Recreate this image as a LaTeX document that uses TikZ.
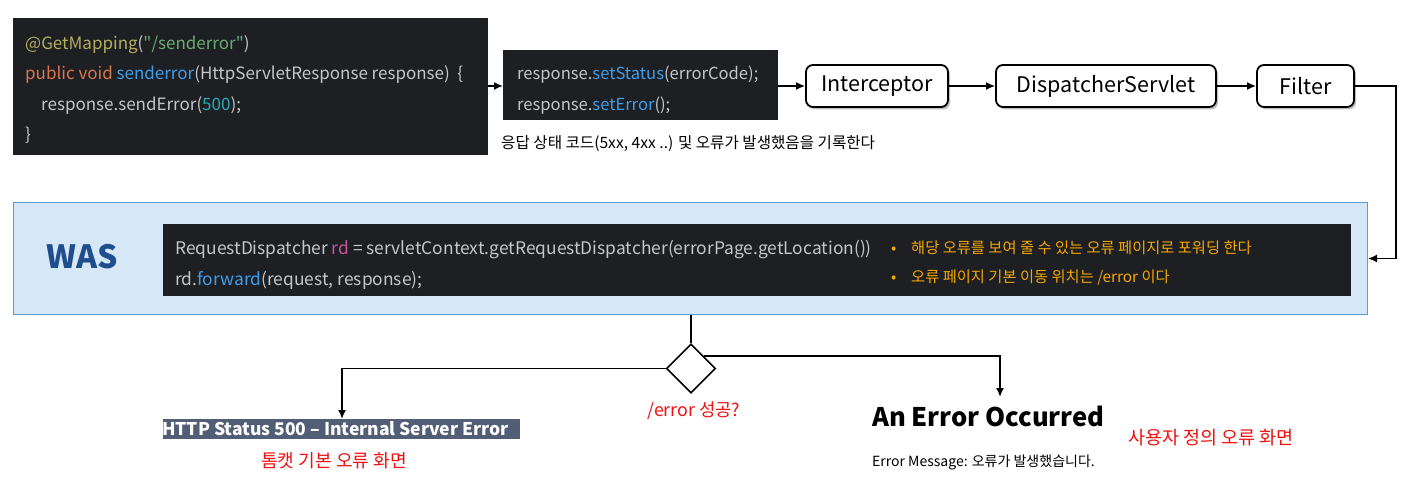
\documentclass[tikz,border=0pt]{standalone}
\usepackage{fontspec}
\setmainfont{Noto Sans CJK KR}
\newfontfamily\nolig{Noto Sans CJK KR}
\usetikzlibrary{arrows.meta,shapes.geometric,shadows,calc}
\definecolor{codebg}{HTML}{1E1F22}
\definecolor{codegray}{HTML}{C4C6CC}
\definecolor{annot}{HTML}{B3AE60}
\definecolor{strg}{HTML}{6AAB73}
\definecolor{kw}{HTML}{D9764F}
\definecolor{fn}{HTML}{3D9EEB}
\definecolor{num}{HTML}{2AACB8}
\definecolor{rdc}{HTML}{C7559C}
\definecolor{bul}{HTML}{F5A800}
\definecolor{wasfill}{HTML}{D6E8F7}
\definecolor{wasdraw}{HTML}{5B9BD5}
\definecolor{wastext}{HTML}{1F4E8F}
\definecolor{tomcat}{HTML}{525D76}
\definecolor{redtxt}{HTML}{F01010}
\newcommand{\fs}[1]{\fontsize{#1}{#1}\selectfont}
\newcommand{\dq}{{\nolig"}}
\begin{document}
\begin{tikzpicture}[x=1pt,y=-1pt,
  codebox/.style={fill=codebg, draw=none, inner sep=0, anchor=north west},
  ct/.style={anchor=base west, inner sep=0, text=codegray, font=\fs{17}},
  rbox/.style={draw, line width=1.8pt, rounded corners=7pt, minimum height=42pt, fill=white,
    drop shadow={shadow xshift=2pt, shadow yshift=-2.5pt, opacity=0.35, fill=black!70},
    font=\fs{21.5}, inner sep=0},
  arr/.style={line width=1.6pt, -{Latex[length=9pt,width=8pt]}},
  ln/.style={line width=1.6pt},
  plain/.style={inner sep=0},
  redlab/.style={inner sep=0, text=redtxt}
]
\useasboundingbox[fill=white] (0,0) rectangle (1427,494);

% top-left code box
\node[codebox, minimum width=475pt, minimum height=137pt] (c1) at (13,18) {};
\node[ct] (l1) at (25,50) {\textcolor{annot}{@GetMapping}(\textcolor{strg}{\dq/senderror\dq})};
\node[ct] (l2) at (25,80) {\textcolor{kw}{public void} \textcolor{fn}{senderror}(HttpServletResponse response)\ \ \{};
\node[ct] (l3) at (41,111) {response.sendError(\textcolor{num}{500});};
\node[ct] (l4) at (25,141) {\}};

% second code box
\node[codebox, minimum width=275pt, minimum height=70pt] (c2) at (503,50) {};
\node[ct, font=\fs{16.6}] (m1) at (517,80) {response.\textcolor{fn}{setStatus}(errorCode);};
\node[ct, font=\fs{16.6}] (m2) at (517,111) {response.\textcolor{fn}{setError}();};
\node[plain, anchor=base west, font=\fs{15.6}] (cap) at (501,149) {응답 상태 코드(5xx, 4xx ..) 및 오류가 발생했음을 기록한다};

% rounded boxes
\node[rbox, minimum width=142pt] (int) at (877,86) {Interceptor};
\node[rbox, minimum width=220pt] (ds) at (1106,86) {DispatcherServlet};
\node[rbox, minimum width=97pt] (fil) at (1305.5,86) {Filter};

\draw[arr] (c1.east |- 0,86) -- (c2.west |- 0,86);
\draw[arr] (c2.east |- int.west) -- (int.west);
\draw[arr] (int.east) -- (ds.west);
\draw[arr] (ds.east) -- (fil.west);

% WAS box
\node[codebox, fill=wasfill, draw=wasdraw, line width=1pt, minimum width=1354pt, minimum height=112pt] (was) at (13,202) {};
\node[plain, text=wastext, font=\fs{32}\bfseries] (wast) at (82,257) {WAS};
\node[codebox, minimum width=1188pt, minimum height=72pt] (c3) at (163,224) {};
\node[ct, font=\fs{17.4}] (r1) at (175,255) {RequestDispatcher \textcolor{rdc}{rd} = servletContext.getRequestDispatcher(errorPage.getLocation())};
\node[ct, font=\fs{17.4}] (r2) at (175,286) {rd.\textcolor{fn}{forward}(request, response);};
\node[plain, anchor=base west, text=bul, font=\fs{15.3}] (b1) at (891,254) {•};
\node[plain, anchor=base west, text=bul, font=\fs{15.3}] (t1) at (911,254) {해당 오류를 보여 줄 수 있는 오류 페이지로 포워딩 한다};
\node[plain, anchor=base west, text=bul, font=\fs{15.3}] (b2) at (891,283) {•};
\node[plain, anchor=base west, text=bul, font=\fs{15.3}] (t2) at (911,283) {오류 페이지 기본 이동 위치는 /error 이다};

\draw[arr] (fil.east) -- ++(41,0) |- (was.east);

% decision
\node[diamond, draw, line width=1.6pt, minimum width=49pt, minimum height=49pt, inner sep=0] (d) at (691,368.5) {};
\draw[ln] (d.north |- was.south) -- (d.north);
\node[redlab, font=\fs{17.8}] (q) at (694,411) {/error 성공?};

% tomcat page
\node[codebox, fill=tomcat, minimum width=357pt, minimum height=20pt] (tc) at (163,419) {};
\node[plain, anchor=west, text=white, font=\fs{17.5}\bfseries] (tct) at (162,429) {HTTP Status 500 – Internal Server Error};
\node[redlab, font=\fs{18.1}] (tcl) at (334,461) {톰캣 기본 오류 화면};
\draw[arr] (d.west) -| (tc.north -| 342,0);

% custom page
\coordinate (etop) at (1000,397);
\node[plain, anchor=west, font=\fs{25.6}\bfseries] (aeo) at (872,416) {An Error Occurred};
\node[plain, anchor=west, font=\fs{14}] (emsg) at (872,462) {Error Message: 오류가 발생했습니다.};
\node[redlab, anchor=west, font=\fs{18.5}] (ucl) at (1128,438) {사용자 정의 오류 화면};
\draw[arr] (d.north east) -| (etop);
\end{tikzpicture}
\end{document}
